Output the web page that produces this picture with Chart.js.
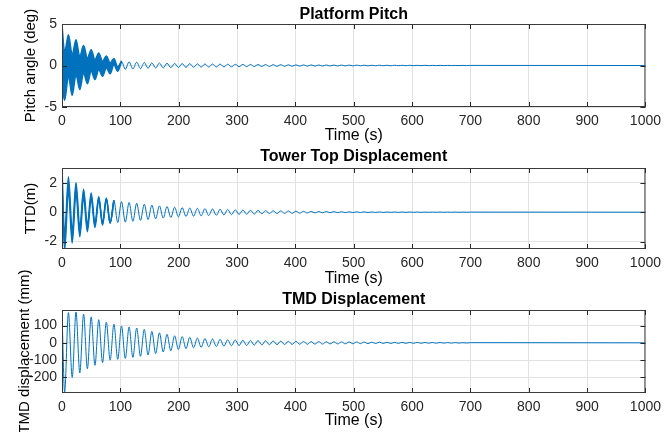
<!DOCTYPE html>
<html><head><meta charset="utf-8">
<script src="https://cdn.jsdelivr.net/npm/chart.js@4/dist/chart.umd.min.js"></script>
<style>
html,body{margin:0;padding:0;background:#fff;}
#wrap{position:relative;width:667px;height:432px;overflow:hidden;background:#fff;}
canvas{position:absolute;left:0;top:0;}
</style></head><body>
<div id="wrap">
<canvas id="c1" width="667" height="432"></canvas>
<canvas id="c2" width="667" height="432"></canvas>
<canvas id="c3" width="667" height="432"></canvas>
</div>
<script>
// ---- data ----
const timeTicks = [0,100,200,300,400,500,600,700,800,900,1000];
const extremaTimes = [
 0,4.5,11,17.5,24,30.5,37,43.5,50,56.5,
 63,69.5,76,82.5,89,95.5,102,108.5,115,121.5,
 128,134.5,141,147.5,154,160.5,167,173.5,180,186.5,
 193,199.5,206,212.5,219,225.5,232,238.5,245,251.5,
 258,264.5,271,277.5,284,290.5,297,303.5,310,316.5,
 323,329.5,336,342.5,349,355.5,362,368.5,375,381.5,
 388,394.5,401,407.5,414,420.5,427,433.5,440,446.5,
 453,459.5,466,472.5,479,485.5,492,498.5,505,511.5,
 518,524.5,531,537.5,544,550.5,557,563.5,570,576.5,
 583,589.5,596,602.5,609,615.5,622,628.5,635,641.5,
 648,654.5,661,667.5,674,680.5,687,693.5,700];
const endTime = [1000];
const endValue = [0];

const pitchValues = [
 1.2,-1.3,1.2,-1.15,1.0,-0.9,0.75,-0.65,0.6,-0.5,
 0.5,-0.4,0.42,-0.35,0.47,-0.42,0.5,-0.46,0.44,-0.42,
 0.4,-0.38,0.36,-0.34,0.32,-0.31,0.3,-0.29,0.27,-0.26,
 0.25,-0.24,0.23,-0.22,0.22,-0.21,0.2,-0.2,0.19,-0.19,
 0.18,-0.18,0.17,-0.17,0.16,-0.16,0.15,-0.15,0.14,-0.14,
 0.13,-0.13,0.12,-0.12,0.11,-0.11,0.1,-0.1,0.1,-0.09,
 0.09,-0.09,0.08,-0.08,0.075,-0.075,0.07,-0.07,0.065,-0.065,
 0.06,-0.06,0.055,-0.055,0.05,-0.05,0.05,-0.045,0.045,-0.04,
 0.04,-0.04,0.035,-0.035,0.035,-0.03,0.03,-0.03,0.03,-0.025,
 0.025,-0.025,0.025,-0.02,0.02,-0.02,0.02,-0.02,0.015,-0.015,
 0.015,-0.015,0.015,-0.01,0.01,-0.01,0.01,-0.01,0.01];
const pitchBandTop = [4.9,1.6,3.7,1.3,3.1,1.1,2.4,0.9,1.9,0.7,1.5,0.5,1.15,0.3,0.85,-0.15,0.55];
const pitchBandBottom = [-2.5,-4.2,-1.3,-3.6,-1.1,-2.9,-0.9,-2.2,-0.7,-1.7,-0.5,-1.3,-0.3,-1.0,0.1,-0.7,0.45];

const ttdValues = [
 2.4,-2.1,1.95,-1.7,1.65,-1.37,1.29,-1.11,1.12,-0.91,
 0.97,-0.81,0.92,-0.74,0.8,-0.7,0.72,-0.68,0.66,-0.62,
 0.6,-0.56,0.54,-0.5,0.48,-0.45,0.43,-0.4,0.38,-0.36,
 0.34,-0.32,0.31,-0.29,0.28,-0.27,0.26,-0.25,0.24,-0.23,
 0.22,-0.21,0.2,-0.19,0.18,-0.17,0.16,-0.15,0.15,-0.14,
 0.13,-0.13,0.12,-0.11,0.11,-0.1,0.1,-0.09,0.09,-0.08,
 0.08,-0.075,0.07,-0.065,0.06,-0.055,0.05,-0.05,0.045,-0.04,
 0.04,-0.035,0.035,-0.03,0.03,-0.03,0.025,-0.025,0.02,-0.02,
 0.02,-0.02,0.015,-0.015,0.015,-0.015,0.01,-0.01,0.01,-0.01,
 0.01,-0.01,0.01,-0.01,0.01,-0.01,0.005,-0.005,0.005,-0.005,
 0.005,-0.005,0.005,-0.005,0.005,-0.005,0.005,-0.005,0.005];
const ttdBandTop = [3.0,-1.6,2.4,-1.3,2.0,-1.07,1.55,-0.89,1.3,-0.77,1.07,-0.74,0.96,-0.72,0.8];
const ttdBandBottom = [1.8,-2.6,1.5,-2.1,1.3,-1.67,1.03,-1.33,0.94,-1.05,0.87,-0.88,0.88,-0.76,0.8];

const tmdValues = [
 185,-285,175,-200,178,-174,166,-150,150,-130,
 134,-114,120,-100,108,-95,98,-90,92,-84,
 86,-78,78,-70,66,-62,58,-53,49,-45,
 41,-38,36,-33,32,-29,28,-26,25,-23,
 22,-21,20,-19,18,-17,17,-16,15,-15,
 14,-13,13,-12,12,-11,11,-10,10,-10,
 9,-9,9,-8,8,-8,7,-7,7,-7,
 6,-6,6,-6,5.5,-5.5,5,-5,5,-4.5,
 4.5,-4.5,4,-4,4,-3.5,3.5,-3.5,3,-3,
 3,-3,2.5,-2.5,2.5,-2.5,2,-2,2,-2,
 2,-1.5,1.5,-1.5,1.5,-1.5,1,-1,1];

const pitchTicks = [-5,0,5];
const ttdTicks = [-2,0,2];
const tmdTicks = [-200,-100,0,100];

// ---- helpers ----
const FONT = '"Liberation Sans", Arial, Helvetica, sans-serif';
const BLUE = '#0072BD';
function pts(times, vals){ return vals.map((v,i)=>({x:times[i], y:v})); }
function series(vals){ return pts(extremaTimes, vals).concat(pts(endTime, endValue)); }

const framePlugin = {
  id:'frame',
  afterDraw(chart, args, o){
    const {ctx, chartArea:a} = chart;
    const xs = chart.scales.x, ys = chart.scales.y;
    ctx.save();
    ctx.strokeStyle = '#262626'; ctx.lineWidth = 1;
    ctx.beginPath();
    timeTicks.forEach(v=>{
      const px = Math.round(xs.getPixelForValue(v)) + 0.5;
      ctx.moveTo(px, a.bottom); ctx.lineTo(px, a.bottom-5);
      ctx.moveTo(px, a.top); ctx.lineTo(px, a.top+5);
    });
    o.yTicks.forEach(v=>{
      const py = Math.round(ys.getPixelForValue(v)) + 0.5;
      ctx.moveTo(a.left, py); ctx.lineTo(a.left+5, py);
      ctx.moveTo(a.right, py); ctx.lineTo(a.right-5, py);
    });
    ctx.stroke();
    ctx.strokeStyle = '#3a3a3a';
    ctx.strokeRect(a.left+0.5, a.top+0.5, a.right-a.left-1, a.bottom-a.top-1);
    ctx.fillStyle = '#000';
    ctx.textAlign = 'center'; ctx.textBaseline = 'middle';
    const cx = (a.left+a.right)/2;
    ctx.font = 'bold 16px ' + FONT;
    ctx.fillText(o.title, cx, o.titleY);
    ctx.font = '16px ' + FONT;
    ctx.fillText(o.xLabel, cx, o.xLabelY);
    ctx.save();
    ctx.translate(o.yLabelX, (a.top+a.bottom)/2);
    ctx.rotate(-Math.PI/2);
    ctx.font = '15px ' + FONT;
    ctx.fillText(o.yLabel, 0, 0);
    ctx.restore();
    ctx.restore();
  }
};

function makeChart(id, c){
  const datasets = [];
  if (c.bandTop){
    const n = c.bandTop.length;
    datasets.push({data: pts(extremaTimes.slice(0,n), c.bandTop), borderColor: BLUE, backgroundColor: BLUE,
      borderWidth: 1.5, fill: '+1', pointRadius: 0, cubicInterpolationMode: 'monotone'});
    datasets.push({data: pts(extremaTimes.slice(0,n), c.bandBottom), borderColor: BLUE, backgroundColor: BLUE,
      borderWidth: 1.5, fill: false, pointRadius: 0, cubicInterpolationMode: 'monotone'});
  }
  datasets.push({data: series(c.values), borderColor: BLUE, borderWidth: 1, fill: false,
    pointRadius: 0, cubicInterpolationMode: 'monotone'});
  return new Chart(document.getElementById(id), {
    type: 'line',
    data: { datasets },
    options: {
      responsive: false, animation: false, events: [],
      layout: { padding: { top: c.top, right: 18, left: 0, bottom: 432 - c.bottom - 24 } },
      plugins: { legend: {display:false}, tooltip: {enabled:false},
        frame: { title: c.title, titleY: c.titleY, xLabel: 'Time (s)', xLabelY: c.xLabelY,
                 yLabel: c.yLabel, yLabelX: c.yLabelX, yTicks: c.yTicks } },
      scales: {
        x: { type: 'linear', min: 0, max: 1000,
             afterFit: s => { s.height = 24; },
             afterBuildTicks: s => { s.ticks = timeTicks.map(v=>({value:v})); },
             grid: { color: '#e2e2e2', drawTicks: false, lineWidth: 1 },
             border: { display: false },
             ticks: { padding: 6, maxRotation: 0, autoSkip: false, color: '#262626',
                      font: { family: FONT, size: 14 }, callback: v => String(v) } },
        y: { type: 'linear', min: c.yMin, max: c.yMax,
             afterFit: s => { s.width = 62; },
             afterBuildTicks: s => { s.ticks = c.yTicks.map(v=>({value:v})); },
             grid: { color: '#e2e2e2', drawTicks: false, lineWidth: 1 },
             border: { display: false },
             ticks: { padding: 5, color: '#262626', font: { family: FONT, size: 14 },
                      callback: v => String(v) } }
      }
    },
    plugins: [framePlugin]
  });
}

makeChart('c1', { top: 24, bottom: 107, yMin: -5, yMax: 5, yTicks: pitchTicks, values: pitchValues,
  bandTop: pitchBandTop, bandBottom: pitchBandBottom,
  title: 'Platform Pitch', titleY: 15, xLabelY: 136, yLabel: 'Pitch angle (deg)', yLabelX: 31 });
makeChart('c2', { top: 168, bottom: 249, yMin: -2.5, yMax: 3, yTicks: ttdTicks, values: ttdValues,
  bandTop: ttdBandTop, bandBottom: ttdBandBottom,
  title: 'Tower Top Displacement', titleY: 157, xLabelY: 279, yLabel: 'TTD(m)', yLabelX: 31 });
makeChart('c3', { top: 310, bottom: 393, yMin: -290, yMax: 190, yTicks: tmdTicks, values: tmdValues,
  title: 'TMD Displacement', titleY: 300, xLabelY: 421, yLabel: 'TMD displacement (mm)', yLabelX: 25 });
</script>
</body></html>
